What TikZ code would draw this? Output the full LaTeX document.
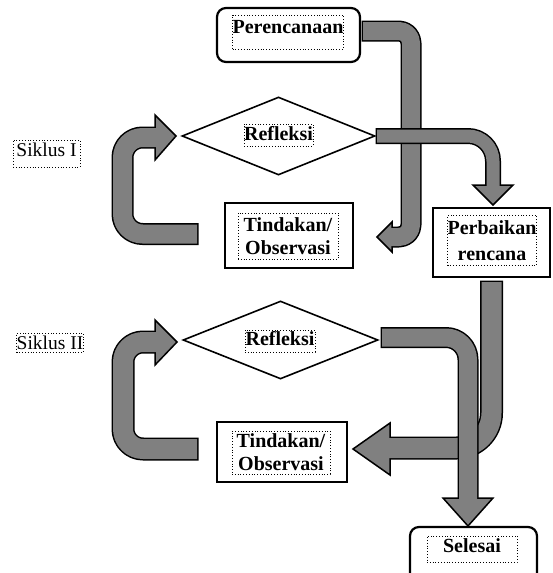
\documentclass[tikz,border=0pt]{standalone}
\usepackage{fontspec}
\setmainfont{Liberation Serif}
\usetikzlibrary{shapes.geometric}
\definecolor{arrowgray}{HTML}{808080}
\newcommand\myblockarrow[7]{%
  \draw[arrowedge, line width=#1pt, rounded corners=#3pt, shorten <=-1.5pt] #4;
  \filldraw[arrowhead] #5 -- #6 -- #7 -- cycle;
  \draw[arrowfill, line width=#2pt, rounded corners=#3pt, shorten >=-3pt] #4;
}
\tikzset{
  box/.style={draw, line width=2.2pt, inner sep=0pt},
  rbox/.style={box, rounded corners=9pt},
  dia/.style={draw, diamond, line width=1.6pt, inner sep=0pt},
  lbl/.style={draw, dotted, line width=0.8pt, inner sep=0pt, font=\fontsize{20}{23}\selectfont\bfseries, align=center},
  slbl/.style={lbl, font=\fontsize{19.5}{23}\selectfont},
  arrowedge/.style={draw=black, line cap=butt, line join=round},
  arrowfill/.style={draw=arrowgray, line cap=butt, line join=round},
  arrowhead/.style={fill=arrowgray, draw=black, line width=1.5pt, line join=miter},
}
\begin{document}
\begin{tikzpicture}[x=1pt,y=-1pt]
\useasboundingbox (0,0) rectangle (552,573);
\clip (0,0) rectangle (552,573);

% shapes
\node[rbox, minimum width=143pt, minimum height=54pt] (plan) at (288.5,35) {};
\node[dia, minimum width=193pt, minimum height=78pt] (refl1) at (278.5,136) {};
\node[box, minimum width=128pt, minimum height=65pt] (tind1) at (289,235.5) {};
\node[box, minimum width=117pt, minimum height=69pt] (perb) at (491.5,242.5) {};
\node[dia, minimum width=195pt, minimum height=78pt] (refl2) at (280.5,340) {};
\node[box, minimum width=130pt, minimum height=60pt] (tind2) at (282,452) {};
\node[rbox, minimum width=127pt, minimum height=70pt] (done) at (473.5,562) {};

% labels
\node[lbl, minimum width=110pt, text height=18pt, text depth=16pt] (planl) at (288,32) {Perencanaan};
\node[lbl, minimum width=69pt, text height=16pt, text depth=6pt] (refl1l) at (278.5,135) {Refleksi};
\node[lbl, minimum width=100pt, minimum height=46pt] (tind1l) at (288,236) {Tindakan/\\Observasi};
\node[lbl, minimum width=88pt, minimum height=50pt] (perbl) at (492,240.5) {Perbaikan\\[3pt]rencana};
\node[lbl, minimum width=70pt, text height=15.7pt, text depth=6.3pt] (refl2l) at (280,341) {Refleksi};
\node[lbl, minimum width=98pt, minimum height=43pt] (tind2l) at (281,452.5) {Tindakan/\\Observasi};
\node[lbl, minimum width=90pt, text height=16pt, text depth=10pt] (donel) at (472,549) {Selesai};
\node[slbl, minimum width=67pt, text height=16pt, text depth=11pt] (sik1) at (46.5,153.5) {Siklus I};
\node[slbl, minimum width=66pt, text height=16pt, text depth=3pt] (sik2) at (50,342.5) {Siklus II};

% arrow coordinates
\coordinate (c0) at (363,31);   \coordinate (c1) at (411,31);
\coordinate (c2) at (411,237);  \coordinate (c3) at (392,237);
\coordinate (ch1) at (392,222); \coordinate (ct) at (377,237); \coordinate (ch2) at (392,252);

\coordinate (d0) at (377,136);  \coordinate (d1) at (493,136); \coordinate (d2) at (493,185);
\coordinate (dh1) at (473,185); \coordinate (dt) at (493,205); \coordinate (dh2) at (513,185);

\coordinate (e0) at (197,234);  \coordinate (e1) at (122.5,234);
\coordinate (e2) at (122.5,137.5); \coordinate (e3) at (155,137.5);
\coordinate (eh1) at (155,115); \coordinate (et) at (176,136); \coordinate (eh2) at (155,160);

\coordinate (f0) at (197,449);  \coordinate (f1) at (123,449);
\coordinate (f2) at (123,342);  \coordinate (f3) at (155,342);
\coordinate (fh1) at (155,320); \coordinate (ft) at (177,342); \coordinate (fh2) at (155,365);

\coordinate (a0) at (491.5,282); \coordinate (a1) at (491.5,448); \coordinate (a2) at (390,448);
\coordinate (ah1) at (390,423); \coordinate (at) at (353,449); \coordinate (ah2) at (390,475);

\coordinate (b0) at (382,337.5); \coordinate (b1) at (468,337.5); \coordinate (b2) at (468,498);
\coordinate (bh1) at (443,498); \coordinate (bt) at (468,526); \coordinate (bh2) at (493,498);

% arrows
\myblockarrow{21}{18}{12}{(c0) -- (c1) -- (c2) -- (c3)}{(ch1)}{(ct)}{(ch2)}
\myblockarrow{16}{13}{25}{(d0) -- (d1) -- (d2)}{(dh1)}{(dt)}{(dh2)}
\myblockarrow{22}{19}{20}{(e0) -- (e1) -- (e2) -- (e3)}{(eh1)}{(et)}{(eh2)}
\myblockarrow{23}{20}{20}{(f0) -- (f1) -- (f2) -- (f3)}{(fh1)}{(ft)}{(fh2)}
\myblockarrow{23}{20}{35}{(a0) -- (a1) -- (a2)}{(ah1)}{(at)}{(ah2)}
\myblockarrow{21}{18}{22}{(b0) -- (b1) -- (b2)}{(bh1)}{(bt)}{(bh2)}
\end{tikzpicture}
\end{document}
